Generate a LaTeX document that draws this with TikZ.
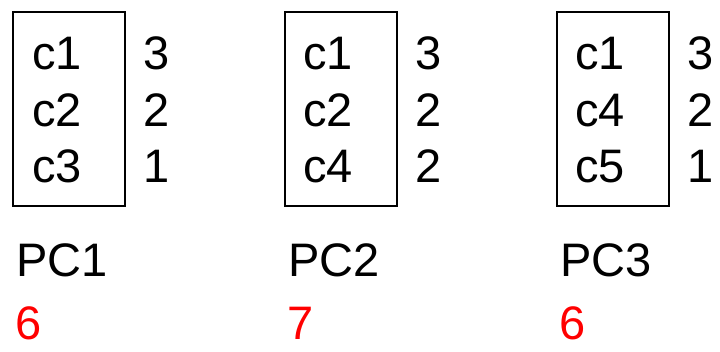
\documentclass[tikz,border=0pt]{standalone}
\usepackage{fontspec}
\setmainfont{Liberation Sans}
\begin{document}
\begin{tikzpicture}[x=1pt,y=-1pt,
  txt/.style={anchor=base west,inner sep=0pt,font=\fontsize{47}{56}\selectfont},
  score/.style={txt,text=red},
  listbox/.style={draw=black,line width=1.6pt,inner sep=0pt}]
\useasboundingbox (0,0) rectangle (720,352);
% column 1
\node[listbox,minimum width=112pt,minimum height=194pt,anchor=north west] (b1) at (12,11) {};
\node[txt] (a11) at (32,69.3) {c1};
\node[txt] (a12) at (32,126.7) {c2};
\node[txt] (a13) at (32,183) {c3};
\node[txt] (n11) at (143,69.3) {3};
\node[txt] (n12) at (143,126.7) {2};
\node[txt] (n13) at (143,183) {1};
\node[txt] (p1) at (16,276.7) {PC1};
\node[score] (s1) at (15,340) {6};
% column 2
\node[listbox,minimum width=112pt,minimum height=194pt,anchor=north west] (b2) at (284,11) {};
\node[txt] (a21) at (303,69.3) {c1};
\node[txt] (a22) at (303,126.7) {c2};
\node[txt] (a23) at (303,183) {c4};
\node[txt] (n21) at (415,69.3) {3};
\node[txt] (n22) at (415,126.7) {2};
\node[txt] (n23) at (415,183) {2};
\node[txt] (p2) at (288,276.7) {PC2};
\node[score] (s2) at (287,340) {7};
% column 3
\node[listbox,minimum width=112pt,minimum height=194pt,anchor=north west] (b3) at (556,11) {};
\node[txt] (a31) at (575,69.3) {c1};
\node[txt] (a32) at (575,126.7) {c4};
\node[txt] (a33) at (575,183) {c5};
\node[txt] (n31) at (687,69.3) {3};
\node[txt] (n32) at (687,126.7) {2};
\node[txt] (n33) at (687,183) {1};
\node[txt] (p3) at (560,276.7) {PC3};
\node[score] (s3) at (559,340) {6};
\end{tikzpicture}
\end{document}
